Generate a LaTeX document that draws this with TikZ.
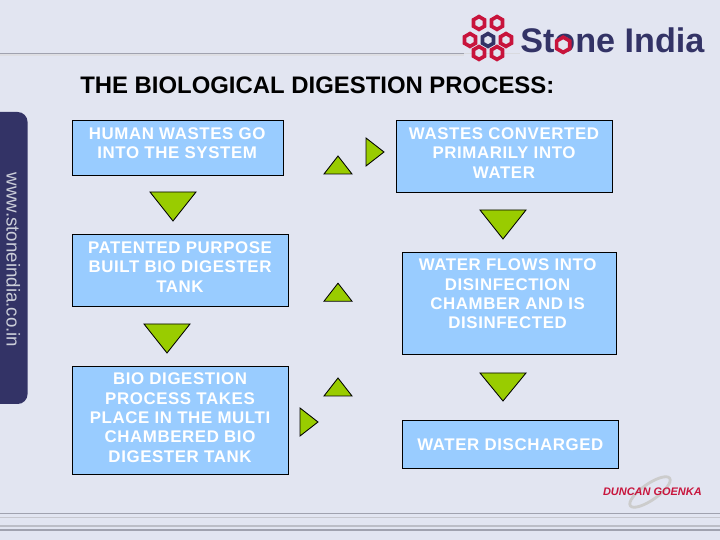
\documentclass[tikz,border=0pt]{standalone}
\usepackage{fontspec}
\setmainfont{Liberation Sans}
\newfontfamily\fuentecaja[LetterSpace=3.5]{Liberation Sans}
\definecolor{fondo}{RGB}{226,229,241}
\usetikzlibrary{shapes.geometric}
\definecolor{azulcaja}{RGB}{153,204,255}
\definecolor{verde}{RGB}{153,204,0}
\definecolor{marino}{RGB}{51,51,102}
\definecolor{rojo}{RGB}{200,20,60}
\definecolor{raya}{RGB}{160,162,175}
\tikzset{
	caja/.style={draw=black, fill=azulcaja, line width=0.6pt},
	letrero/.style={text=white, align=center, inner sep=0pt, font=\fontsize{12}{13.8}\selectfont\fuentecaja\bfseries},
	flecha/.style={draw=black, fill=verde, line width=0.6pt},
	hexa/.style={regular polygon, regular polygon sides=6, shape border rotate=30, minimum size=0.32cm, inner sep=0pt, draw=rojo, line width=2.6pt, fill=fondo},
}
\begin{document}
\begin{tikzpicture}
	% Fondo
	\fill[fondo] (0,0) rectangle (18,13.5);
	\useasboundingbox (0,0) rectangle (18,13.5);
	% Rayas superior e inferior
	\draw[raya!35, line width=2pt] (0,12.14) -- (11.6,12.14);
	\draw[raya, line width=0.7pt] (0,12.16) -- (11.6,12.16);
	\draw[raya!40, line width=0.7pt] (11.6,12.16) -- (13,12.16);
	\draw[raya, line width=1.1pt] (0,0.66) -- (18,0.66);
	\draw[raya!60, line width=0.8pt] (0,0.57) -- (18,0.57);
	\draw[raya!70, line width=0.8pt] (0,0.35) -- (18,0.35);
	\draw[raya, line width=0.8pt] (0,0.25) -- (18,0.25);
	% Barra lateral
	\fill[marino, rounded corners=0.25cm] (-0.5,3.4) rectangle (0.69,10.7);
	\node[rotate=-90, text=fondo!90!black, font=\fontsize{13.3}{16}\selectfont] (web) at (0.33,7.0) {www.stoneindia.co.in};
	% Titulo
	\node[anchor=west, inner sep=0pt, font=\fontsize{17}{20}\selectfont\bfseries] (titulo) at (2,11.38) {THE BIOLOGICAL DIGESTION PROCESS:};
	% Logo Stone India
	\node[anchor=west, inner sep=0pt, text=marino, font=\fontsize{24.3}{26}\selectfont\bfseries] (marca) at (13,12.49) {Stone India};
	\node[hexa, minimum size=0.38cm] (hexo) at (14.08,12.38) {};
	\node[hexa] (h1) at (11.975,12.925) {};
	\node[hexa] (h2) at (12.425,12.925) {};
	\node[hexa] (h3) at (11.75,12.5) {};
	\node[hexa, draw=marino] (h4) at (12.2,12.5) {};
	\node[hexa] (h5) at (12.65,12.5) {};
	\node[hexa] (h6) at (11.975,12.175) {};
	\node[hexa] (h7) at (12.425,12.175) {};
	% Cajas del proceso
	\draw[caja] (1.8,10.5) rectangle (7.075,9.125);
	\node[letrero] (a) at (4.43,9.925) {HUMAN WASTES GO\\INTO THE SYSTEM};
	\draw[caja] (1.8,7.65) rectangle (7.2,5.85);
	\node[letrero] (b) at (4.5,6.825) {PATENTED PURPOSE\\BUILT BIO DIGESTER\\TANK};
	\draw[caja] (1.8,4.35) rectangle (7.2,1.65);
	\node[letrero] (c) at (4.5,3.06) {BIO DIGESTION\\PROCESS TAKES\\PLACE IN THE MULTI\\CHAMBERED BIO\\DIGESTER TANK};
	\draw[caja] (9.9,10.5) rectangle (15.3,8.7);
	\node[letrero] (d) at (12.6,9.675) {WASTES CONVERTED\\PRIMARILY INTO\\WATER};
	\draw[caja] (10.05,7.2) rectangle (15.4,4.65);
	\node[letrero] (e) at (12.69,6.15) {WATER FLOWS INTO\\DISINFECTION\\CHAMBER AND IS\\DISINFECTED};
	\draw[caja] (10.05,3) rectangle (15.45,1.8);
	\node[letrero] (f) at (12.76,2.375) {WATER DISCHARGED};
	% Triangulos hacia abajo
	\draw[flecha] (3.75,8.7) -- (4.9,8.7) -- (4.325,7.975) -- cycle;
	\draw[flecha] (3.6,5.4) -- (4.75,5.4) -- (4.175,4.675) -- cycle;
	\draw[flecha] (12,8.25) -- (13.15,8.25) -- (12.575,7.525) -- cycle;
	\draw[flecha] (12,4.175) -- (13.15,4.175) -- (12.575,3.475) -- cycle;
	% Triangulos hacia arriba
	\draw[flecha] (8.1,9.15) -- (8.8,9.15) -- (8.45,9.6) -- cycle;
	\draw[flecha] (8.1,5.97) -- (8.8,5.97) -- (8.45,6.42) -- cycle;
	\draw[flecha] (8.1,3.6) -- (8.8,3.6) -- (8.45,4.05) -- cycle;
	% Triangulos hacia la derecha
	\draw[flecha] (9.15,10.05) -- (9.15,9.35) -- (9.6,9.7) -- cycle;
	\draw[flecha] (7.5,3.3) -- (7.5,2.6) -- (7.95,2.95) -- cycle;
	% Logo Duncan Goenka
	\draw[gray!40, line width=2pt, rotate around={35:(16.25,1.2)}] (16.25,1.2) ellipse (0.6 and 0.2);
	\node[text=rojo, inner sep=0pt, font=\fontsize{7.8}{9}\selectfont\bfseries\itshape] (grupo) at (16.31,1.2) {DUNCAN GOENKA};
\end{tikzpicture}
\end{document}
